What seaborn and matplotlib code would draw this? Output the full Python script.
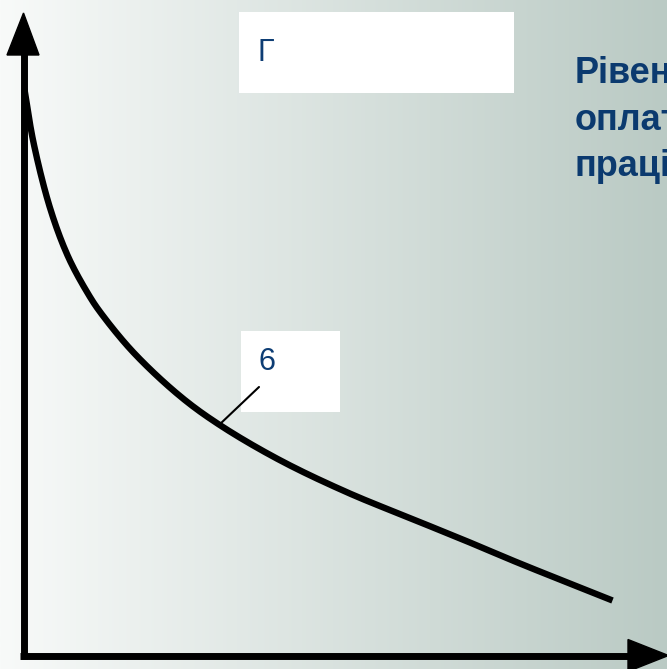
import numpy as np
import pandas as pd
import matplotlib
matplotlib.use("Agg")
import matplotlib.pyplot as plt
from matplotlib.patches import Rectangle, Polygon
import seaborn as sns

# Curve data (x: quantity, y: level of pay)
curve_x = [1, 10, 27, 45, 65, 77, 110, 157, 197, 257, 324, 390, 444, 494, 589]
curve_y = [566, 513, 446, 398, 361, 343, 303, 259, 230, 195, 163, 136, 114, 93, 55]

label_top = "Г"
label_curve = "6"
side_lines = ["Рівень", "оплати", "праці"]


def smooth_path(xs, ys, n=20):
    """Centripetal Catmull-Rom rendering of the read points (drawing style only)."""
    P = np.column_stack([xs, ys]).astype(float)
    P = np.vstack([2 * P[0] - P[1], P, 2 * P[-1] - P[-2]])
    out = []
    for i in range(1, len(P) - 2):
        p0, p1, p2, p3 = P[i - 1], P[i], P[i + 1], P[i + 2]
        t0 = 0.0
        t1 = t0 + np.linalg.norm(p1 - p0) ** 0.5
        t2 = t1 + np.linalg.norm(p2 - p1) ** 0.5
        t3 = t2 + np.linalg.norm(p3 - p2) ** 0.5
        t = np.linspace(t1, t2, n, endpoint=(i == len(P) - 3))[:, None]
        a1 = (t1 - t) / (t1 - t0) * p0 + (t - t0) / (t1 - t0) * p1
        a2 = (t2 - t) / (t2 - t1) * p1 + (t - t1) / (t2 - t1) * p2
        a3 = (t3 - t) / (t3 - t2) * p2 + (t - t2) / (t3 - t2) * p3
        b1 = (t2 - t) / (t2 - t0) * a1 + (t - t0) / (t2 - t0) * a2
        b2 = (t3 - t) / (t3 - t1) * a2 + (t - t1) / (t3 - t1) * a3
        c = (t2 - t) / (t2 - t1) * b1 + (t - t1) / (t2 - t1) * b2
        out.append(c)
    return np.vstack(out)


sns.set_theme(style="white")
plt.rcParams['font.family'] = ['Liberation Sans', 'DejaVu Sans']

fig = plt.figure(figsize=(6.67, 6.69), dpi=100)
ax = fig.add_axes([0, 0, 1, 1])
ax.set_xlim(-23.5, 643.5)
ax.set_ylim(-13.5, 655.5)
ax.axis('off')

# background gradient
grad = np.linspace(0, 1, 256)[None, :]
left = np.array([248, 250, 249]) / 255
right = np.array([186, 202, 196]) / 255
img = left[None, None, :] * (1 - grad[..., None]) + right[None, None, :] * grad[..., None]
ax.imshow(img, extent=(-23.5, 643.5, -13.5, 655.5), aspect='auto', zorder=0)

# axes lines
ax.plot([0, 0], [-3.5, 602], color='black', lw=5, solid_capstyle='butt', zorder=3)
ax.plot([-3.5, 606], [0, 0], color='black', lw=5, solid_capstyle='butt', zorder=3)
ax.add_patch(Polygon([(-16.5, 600.5), (15.5, 600.5), (0, 642.5)], closed=True,
                     color='black', zorder=3))
ax.add_patch(Polygon([(604.5, 16), (604.5, -16), (645, 0)], closed=True,
                     color='black', zorder=3))

# curve (smooth rendering through the read points)
pts = smooth_path(curve_x, curve_y)
df = pd.DataFrame({"x": pts[:, 0], "y": pts[:, 1]})
sns.lineplot(data=df, x="x", y="y", ax=ax, color='black', lw=4.6, sort=False,
             estimator=None, zorder=4)
for l in ax.lines[-1:]:
    l.set_solid_joinstyle('round')
    l.set_solid_capstyle('butt')

# white label boxes
ax.add_patch(Rectangle((215.5, 562.5), 275, 81, facecolor='white', edgecolor='none', zorder=2))
ax.add_patch(Rectangle((217.5, 243.5), 99, 81, facecolor='white', edgecolor='none', zorder=2))

txt_color = '#0d3d74'
ax.text(233.5, 594.5, label_top, fontsize=22, color=txt_color, ha='left', va='baseline', zorder=5)
ax.text(235, 285.5, label_curve, fontsize=22, color=txt_color, ha='left', va='baseline', zorder=5)

# leader line
ax.plot([235.5, 195.5], [268.5, 230.5], color='black', lw=1.5, zorder=5)

# side text (clipped by the figure edge, as in the reference)
for i, s in enumerate(side_lines):
    ax.text(551, 572.5 - 46.5 * i, s, fontsize=26, fontweight='bold', color='#0b3a6f',
            ha='left', va='baseline', zorder=5)

fig.savefig("out.png", dpi=100)
